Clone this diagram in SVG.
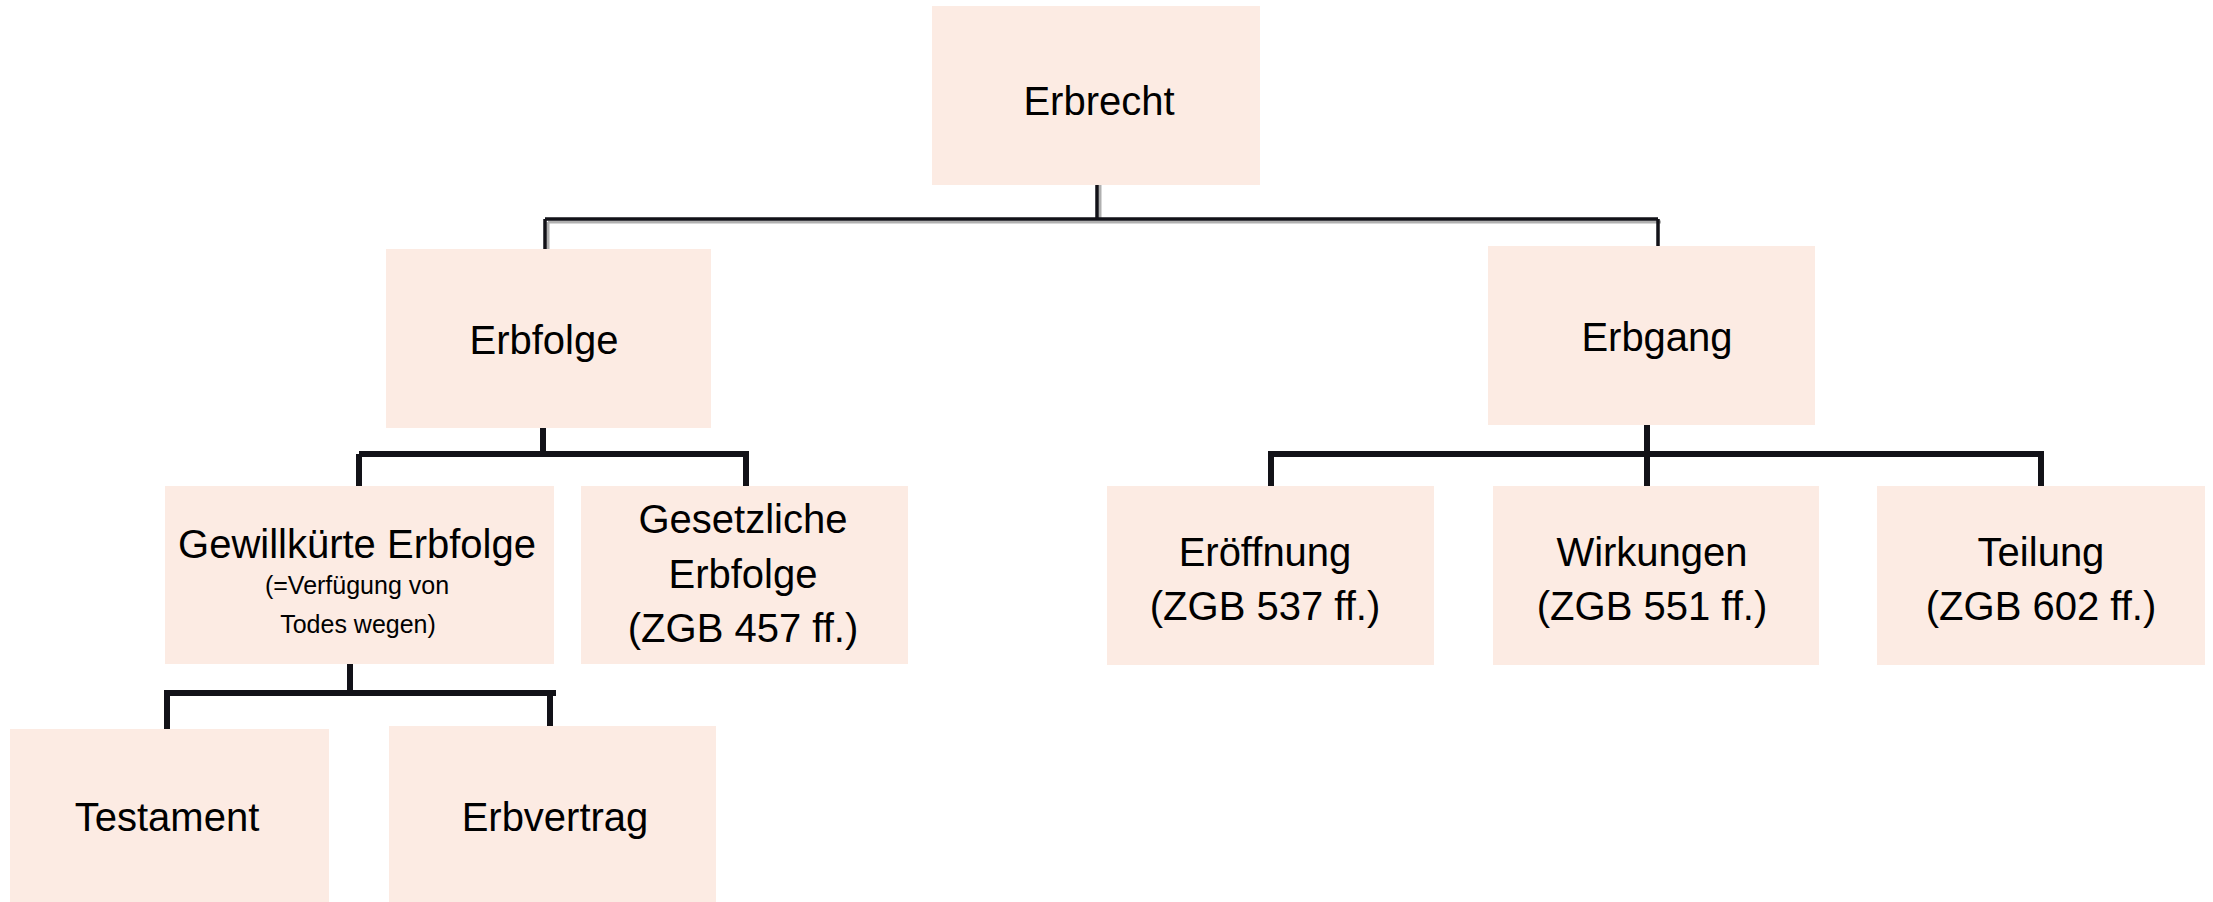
<svg xmlns="http://www.w3.org/2000/svg" width="2213" height="902" viewBox="0 0 2213 902">
<style>
.box{fill:#fcebe3}
.t{font-family:"Liberation Sans",Arial,sans-serif;font-size:40px;fill:#000;text-anchor:middle}
.s{font-family:"Liberation Sans",Arial,sans-serif;font-size:25px;fill:#000;text-anchor:middle}
.c{fill:none;stroke:#121218;stroke-width:6;stroke-linecap:butt}
.c1{fill:none;stroke:#121218;stroke-width:3.5}
.sh{fill:none;stroke:#b0b0b0;stroke-width:3}
</style>
<rect width="2213" height="902" fill="#fff"/>
<g id="connectors">
  <path class="sh" d="M548 222H1661M1100 185V220M548 222V249"/>
  <path class="c1" d="M1097 185V219M545 219H1658M545 219V249M1658 219V246"/>
  <path class="c" d="M543 428V454M359 454H749M359 454V486M746 454V486"/>
  <path class="c" d="M1647 425V454M1268 454H2044M1271 454V488M1647 454V488M2041 454V488"/>
  <path class="c" d="M350 664V693M164 693H556M167 693V729M550 693V726"/>
</g>
<g id="erbrecht">
  <rect class="box" x="932" y="6" width="328" height="179"/>
  <text class="t" x="1099" y="115">Erbrecht</text>
</g>
<g id="erbfolge">
  <rect class="box" x="386" y="249" width="325" height="179"/>
  <text class="t" x="544" y="354">Erbfolge</text>
</g>
<g id="erbgang">
  <rect class="box" x="1488" y="246" width="327" height="179"/>
  <text class="t" x="1657" y="351">Erbgang</text>
</g>
<g id="gewillkuerte">
  <rect class="box" x="165" y="486" width="389" height="178"/>
  <text class="t" x="357" y="558">Gewillkürte Erbfolge</text>
  <text class="s" x="357" y="594">(=Verfügung von</text>
  <text class="s" x="358" y="633">Todes wegen)</text>
</g>
<g id="gesetzliche">
  <rect class="box" x="581" y="486" width="327" height="178"/>
  <text class="t" x="743" y="533">Gesetzliche</text>
  <text class="t" x="743" y="588">Erbfolge</text>
  <text class="t" x="743" y="642">(ZGB 457 ff.)</text>
</g>
<g id="testament">
  <rect class="box" x="10" y="729" width="319" height="173"/>
  <text class="t" x="167" y="831">Testament</text>
</g>
<g id="erbvertrag">
  <rect class="box" x="389" y="726" width="327" height="176"/>
  <text class="t" x="555" y="831">Erbvertrag</text>
</g>
<g id="eroeffnung">
  <rect class="box" x="1107" y="486" width="327" height="179"/>
  <text class="t" x="1265" y="566">Eröffnung</text>
  <text class="t" x="1265" y="620">(ZGB 537 ff.)</text>
</g>
<g id="wirkungen">
  <rect class="box" x="1493" y="486" width="326" height="179"/>
  <text class="t" x="1652" y="566">Wirkungen</text>
  <text class="t" x="1652" y="620">(ZGB 551 ff.)</text>
</g>
<g id="teilung">
  <rect class="box" x="1877" y="486" width="328" height="179"/>
  <text class="t" x="2041" y="566">Teilung</text>
  <text class="t" x="2041" y="620">(ZGB 602 ff.)</text>
</g>
</svg>
